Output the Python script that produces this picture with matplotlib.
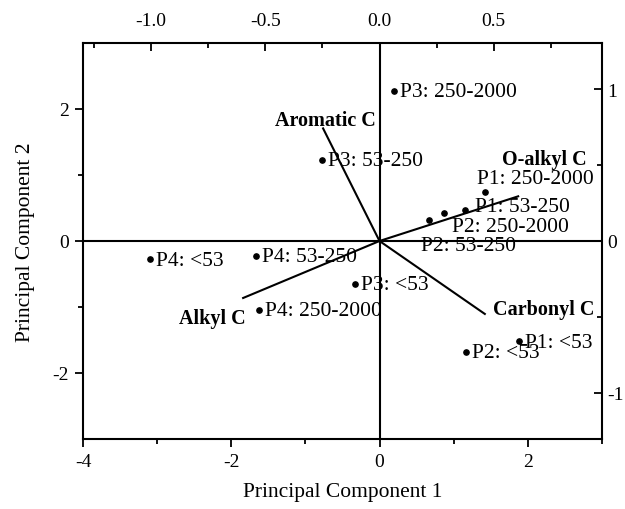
import matplotlib.pyplot as plt

plt.rcParams['font.family'] = ['Liberation Serif', 'DejaVu Serif']
plt.rcParams['axes.unicode_minus'] = False

# sample scores (bottom / left axes)
samples = ['P1: <53', 'P1: 53-250', 'P1: 250-2000',
           'P2: <53', 'P2: 53-250', 'P2: 250-2000',
           'P3: <53', 'P3: 53-250', 'P3: 250-2000',
           'P4: <53', 'P4: 53-250', 'P4: 250-2000']
pc1 = [1.88, 1.15, 1.42, 1.17, 0.67, 0.87, -0.33, -0.78, 0.19, -3.10, -1.67, -1.62]
pc2 = [-1.52, 0.47, 0.75, -1.68, 0.32, 0.43, -0.65, 1.23, 2.28, -0.28, -0.22, -1.04]

# variable loadings (top / right axes)
variables = ['Aromatic C', 'O-alkyl C', 'Carbonyl C', 'Alkyl C']
load1 = [-0.247, 0.607, 0.461, -0.597]
load2 = [0.741, 0.294, -0.48, -0.375]

# label offsets in pixels (dx, dy), default is just right of the dot
sample_offset = {'P1: 250-2000': (-8, 13), 'P1: 53-250': (10, 3),
                 'P2: 250-2000': (8, -14), 'P2: 53-250': (-8, -26)}
var_offset = {'Aromatic C': (2, 8, 'center'), 'O-alkyl C': (-16, 37, 'left'),
              'Carbonyl C': (8, 5, 'left'), 'Alkyl C': (3, -20, 'right')}

fig = plt.figure(figsize=(6.25, 5.1), dpi=100)
rect = [83 / 625, 1 - 440 / 510, 519 / 625, 396 / 510]
ax = fig.add_axes(rect)
ax.set_xlim(-4, 3)
ax.set_ylim(-3, 3)
ax.axhline(0, color='black', lw=1.5)
ax.axvline(0, color='black', lw=1.5)

ax.plot(pc1, pc2, 'o', color='black', ms=3.8)
for name, x, y in zip(samples, pc1, pc2):
    dx, dy = sample_offset.get(name, (6, -1))
    ax.annotate(name, (x, y), xytext=(dx, dy), textcoords='offset pixels',
                ha='left', va='center', fontsize=15.5)

ax.set_xticks([-4, -2, 0, 2])
ax.set_xticks([-3, -1, 1, 3], minor=True)
ax.set_yticks([-2, 0, 2])
ax.set_yticks([-1, 1], minor=True)
ax.tick_params(which='both', direction='out', top=False, right=False,
               labelsize=14, width=1.3)
ax.tick_params(which='major', length=6, pad=4)
ax.tick_params(which='minor', length=3.5)
ax.set_xlabel('Principal Component 1', fontsize=15.5, labelpad=9)
ax.set_ylabel('Principal Component 2', fontsize=15.5, labelpad=13)
for s in ax.spines.values():
    s.set_linewidth(1.5)

# loadings axes on top / right
ax2 = fig.add_axes(rect, frameon=False)
ax2.set_xlim(-1.298, 0.974)
ax2.set_ylim(-1.303, 1.303)
for name, x, y in zip(variables, load1, load2):
    ax2.plot([0, x], [0, y], color='black', lw=1.5)
    dx, dy, ha = var_offset[name]
    ax2.annotate(name, (x, y), xytext=(dx, dy), textcoords='offset pixels',
                 ha=ha, va='center', fontsize=14.5, fontweight='bold')

ax2.xaxis.tick_top()
ax2.yaxis.tick_right()
ax2.set_xticks([-1.0, -0.5, 0.0, 0.5])
ax2.set_xticklabels(['-1.0', '-0.5', '0.0', '0.5'])
ax2.set_xticks([-1.25, -0.75, -0.25, 0.25, 0.75], minor=True)
ax2.set_yticks([-1, 0, 1])
ax2.set_yticks([-0.5, 0.5], minor=True)
ax2.tick_params(which='both', direction='in', labelsize=14, width=1.3)
ax2.tick_params(which='major', length=6)
ax2.tick_params(axis='x', which='major', pad=10)
ax2.tick_params(axis='y', which='major', pad=4)
ax2.tick_params(which='minor', length=3.5)

fig.savefig('out.png', dpi=100)
